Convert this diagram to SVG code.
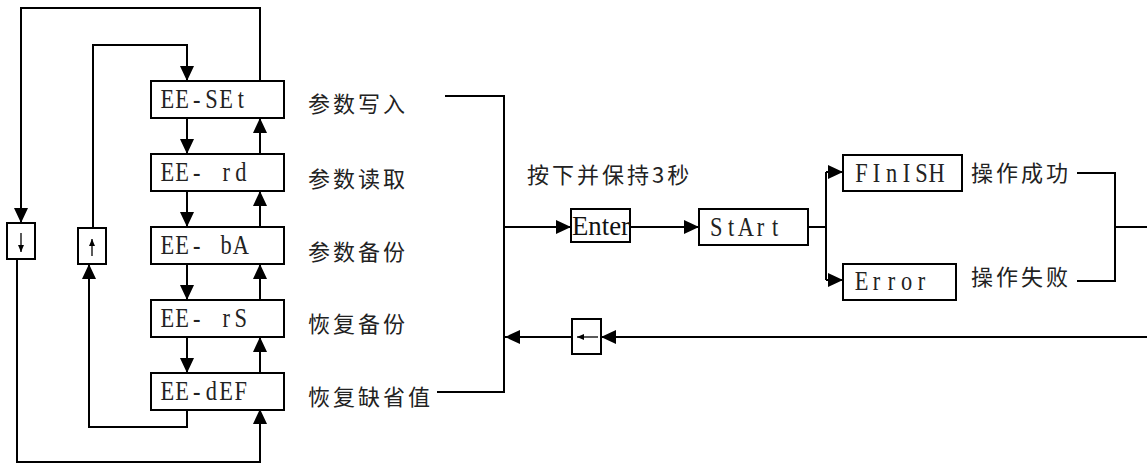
<svg xmlns="http://www.w3.org/2000/svg" width="1147" height="465" viewBox="0 0 1147 465">
<defs>
<marker id="ah" markerUnits="userSpaceOnUse" markerWidth="16" markerHeight="14" refX="15" refY="7" orient="auto">
<path d="M0,0 L15,7 L0,14 z" fill="#000"/>
</marker>
<marker id="sh" markerUnits="userSpaceOnUse" markerWidth="8" markerHeight="8" refX="7" refY="3" orient="auto">
<path d="M0,0 L7,3 L0,6 z" fill="#000"/>
</marker>
</defs>
<style>
.box{fill:#fff;stroke:#000;stroke-width:2}
.mono{font-family:"Liberation Serif",serif;font-size:28px;fill:#222;text-anchor:middle}
.cjk{font-family:"Noto Sans CJK SC",sans-serif;font-size:22px;letter-spacing:3px;fill:#222}
.ln{fill:none;stroke:#000;stroke-width:2}
.ar{fill:none;stroke:#000;stroke-width:2;marker-end:url(#ah)}
.sa{fill:none;stroke:#000;stroke-width:1.3;marker-end:url(#sh)}
</style>
<rect width="1147" height="465" fill="#fff"/>
<g id="connectors">
<path class="ar" d="M187,118 V154"/>
<path class="ar" d="M187,191 V227"/>
<path class="ar" d="M187,264 V300"/>
<path class="ar" d="M187,337 V373"/>
<path class="ar" d="M260,154 V118"/>
<path class="ar" d="M260,227 V191"/>
<path class="ar" d="M260,300 V264"/>
<path class="ar" d="M260,373 V337"/>
<path class="ar" d="M260,81 V8 H21 V223"/>
<path class="ar" d="M17,259 V462 H260 V409"/>
<path class="ar" d="M187,409 V427 H89 V264"/>
<path class="ar" d="M93,228 V45 H187 V81"/>
<path class="ln" d="M445,96 H504 V392 H437"/>
<path class="ar" d="M504,227 H571"/>
<path class="ar" d="M630,227 H699"/>
<path class="ln" d="M808,227 H826"/>
<path class="ln" d="M826,172 V280"/>
<path class="ar" d="M826,172 H843"/>
<path class="ar" d="M826,280 H843"/>
<path class="ln" d="M1077,173 H1115 V281 H1077"/>
<path class="ln" d="M1115,227 H1147"/>
<path class="ar" d="M1147,337 H601"/>
<path class="ar" d="M572,337 H505"/>
</g>
<g id="n-eeset"><rect class="box" x="151" y="81" width="133" height="37"/><g transform="translate(160,108) scale(0.8,1)"><text class="mono" x="9.19 27.56 45.94 64.31 82.69 101.06" y="0">EE-SEt</text></g></g>
<g id="n-eerd"><rect class="box" x="151" y="154" width="133" height="37"/><g transform="translate(160,181) scale(0.8,1)"><text class="mono" x="9.19 27.56 45.94 64.31 82.69 101.06" y="0" xml:space="preserve">EE- rd</text></g></g>
<g id="n-eeba"><rect class="box" x="151" y="227" width="133" height="37"/><g transform="translate(160,254) scale(0.8,1)"><text class="mono" x="9.19 27.56 45.94 64.31 82.69 101.06" y="0" xml:space="preserve">EE- bA</text></g></g>
<g id="n-eers"><rect class="box" x="151" y="300" width="133" height="37"/><g transform="translate(160,327) scale(0.8,1)"><text class="mono" x="9.19 27.56 45.94 64.31 82.69 101.06" y="0" xml:space="preserve">EE- rS</text></g></g>
<g id="n-eedef"><rect class="box" x="151" y="373" width="133" height="37"/><g transform="translate(160,400) scale(0.8,1)"><text class="mono" x="9.19 27.56 45.94 64.31 82.69 101.06" y="0">EE-dEF</text></g></g>
<g id="n-down"><rect class="box" x="7" y="223" width="28" height="36"/><path class="sa" d="M21,233 V252"/></g>
<g id="n-up"><rect class="box" x="78" y="228" width="28" height="36"/><path class="sa" d="M92,256 V239"/></g>
<g id="labels">
<text class="cjk" x="308" y="112">参数写入</text>
<text class="cjk" x="308" y="187">参数读取</text>
<text class="cjk" x="308" y="260">参数备份</text>
<text class="cjk" x="308" y="332">恢复备份</text>
<text class="cjk" x="308" y="405">恢复缺省值</text>
<text class="cjk" x="527" y="183">按下并保持3秒</text>
</g>
<g id="n-enter"><rect class="box" x="571" y="209" width="59" height="33"/><text x="572" y="235" font-family="Liberation Serif,serif" font-size="27" fill="#111" textLength="58" lengthAdjust="spacingAndGlyphs">Enter</text></g>
<g id="n-start"><rect class="box" x="699" y="209" width="109" height="36"/><g transform="translate(709,236) scale(0.8,1)"><text class="mono" x="9.19 27.56 45.94 64.31 82.69" y="0">StArt</text></g></g>
<g id="n-finish"><rect class="box" x="843" y="155" width="119" height="36"/><g transform="translate(854,182) scale(0.8,1)"><text class="mono" x="9.38 28.13 46.88 65.63 84.38 103.13" y="0">FInISH</text></g></g>
<g id="n-error"><rect class="box" x="843" y="264" width="113" height="36"/><g transform="translate(854,290) scale(0.8,1)"><text class="mono" x="9.38 28.13 46.88 65.63 84.38" y="0">Error</text></g></g>
<g id="n-ok-label"><text class="cjk" x="971" y="181">操作成功</text></g>
<g id="n-fail-label"><text class="cjk" x="971" y="285">操作失败</text></g>
<g id="n-back"><rect class="box" x="572" y="319" width="29" height="35"/><path class="sa" d="M598,337 H577"/></g>
</svg>
